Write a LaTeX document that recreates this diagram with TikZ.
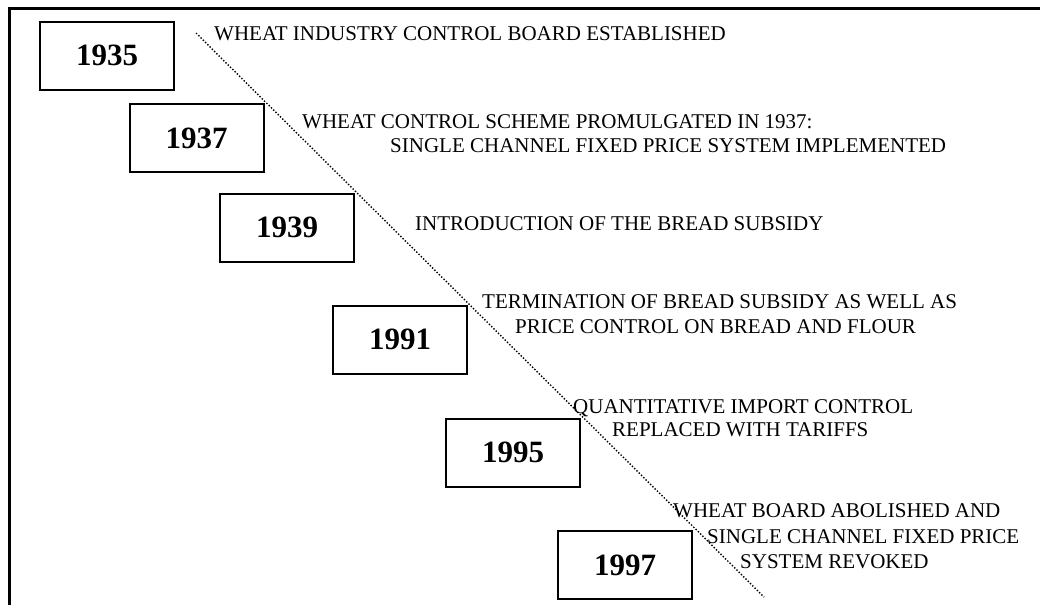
\documentclass[tikz,border=0pt]{standalone}
\usepackage{fontspec}
\setmainfont{Liberation Serif}
\usepackage{tikz}
\tikzstyle{yearbox} = [rectangle, minimum width=134pt, minimum height=68pt, inner sep=0pt, text centered, draw=black, line width=2pt, font=\fontsize{31}{34}\selectfont\bfseries]
\tikzstyle{event} = [anchor=base west, inner sep=0pt, font=\fontsize{21}{24}\selectfont]
\tikzstyle{timeline} = [line width=1.4pt, dash pattern=on 1.4pt off 1.8pt]
\tikzstyle{frame} = [line width=3pt]

\begin{document}
\begin{tikzpicture}[x=1pt, y=-1pt]
	\useasboundingbox (0,0) rectangle (1049,605);
	% frame
	\draw [frame] (9,605) -- (9,8.5) -- (1040,8.5);
	
	% years
	\node (y1935) [yearbox] at (107,55.5) {1935};
	\node (y1937) [yearbox] at (196.5,138) {1937};
	\node (y1939) [yearbox] at (287,227.5) {1939};
	\node (y1991) [yearbox] at (400,339.5) {1991};
	\node (y1995) [yearbox] at (513,452.5) {1995};
	\node (y1997) [yearbox] at (625,565) {1997};
	
	% events
	\node (e1935) [event] at (214,40) {WHEAT INDUSTRY CONTROL BOARD ESTABLISHED};
	\node (e1937a) [event] at (302,128) {WHEAT CONTROL SCHEME PROMULGATED IN 1937:};
	\node (e1937b) [event] at (390,152) {SINGLE CHANNEL FIXED PRICE SYSTEM IMPLEMENTED};
	\node (e1939) [event] at (415,230) {INTRODUCTION OF THE BREAD SUBSIDY};
	\node (e1991a) [event] at (482,308) {TERMINATION OF BREAD SUBSIDY AS WELL AS};
	\node (e1991b) [event] at (515,333) {PRICE CONTROL ON BREAD AND FLOUR};
	\node (e1995a) [event] at (573,413) {QUANTITATIVE IMPORT CONTROL};
	\node (e1995b) [event] at (612,436) {REPLACED WITH TARIFFS};
	\node (e1997a) [event] at (673,517) {WHEAT BOARD ABOLISHED AND};
	\node (e1997b) [event] at (707,543) {SINGLE CHANNEL FIXED PRICE};
	\node (e1997c) [event] at (740,568) {SYSTEM REVOKED};
	
	% dotted time line
	\coordinate (tlstart) at (196,33);
	\coordinate (tlend) at (764,597);
	\draw [timeline](tlstart) -- (tlend);
\end{tikzpicture}
\end{document}
